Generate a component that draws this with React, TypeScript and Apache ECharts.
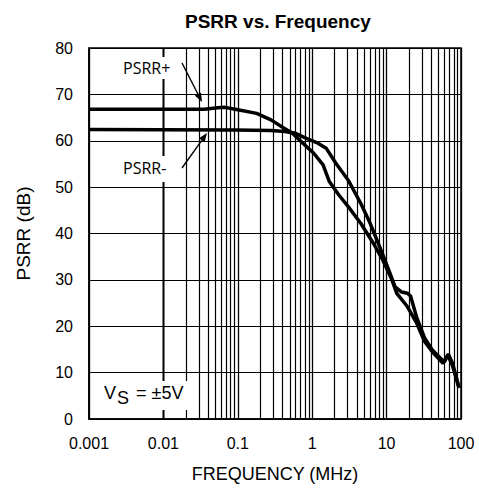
import React, { useEffect, useRef } from 'react';
import * as echarts from 'echarts';

// ---------- data ----------
const chartTitle = 'PSRR vs. Frequency';
const xAxisName = 'FREQUENCY (MHz)';
const yAxisName = 'PSRR (dB)';
const xTickLabels = ['0.001', '0.01', '0.1', '1', '10', '100'];
const decades = [0.001, 0.01, 0.1, 1, 10];
const minorMultipliers = [2, 3, 4, 5, 6, 7, 8, 9];

const psrrPlusFreq = [0.001, 0.0356, 0.0538, 0.0673, 0.0925, 0.179, 0.279, 0.389, 0.542, 0.756, 1.05, 1.4, 1.7, 2.28, 3.05, 4.49, 6.63, 8.87, 11.8, 13.7, 19.1, 25.5, 32.4, 41.1, 52.2, 57.5, 66.4, 76.6, 92.6];
const psrrPlusDb = [66.8, 66.8, 67.1, 67.2, 66.8, 65.9, 64.5, 63.0, 61.6, 59.4, 57.3, 54.8, 51.2, 48.3, 45.8, 42.2, 37.9, 34.3, 30.0, 27.1, 24.2, 20.6, 16.7, 14.5, 12.7, 12.0, 13.8, 11.6, 7.0];

const psrrMinusFreq = [0.001, 0.0925, 0.279, 0.43, 0.597, 0.834, 1.15, 1.54, 2.07, 3.05, 3.7, 4.49, 6.01, 8.04, 10.7, 13.0, 15.8, 19.1, 21.0, 25.5, 32.4, 41.1, 52.2, 59.7, 67.6, 77.3, 94.4];
const psrrMinusDb = [62.4, 62.3, 62.2, 62.0, 61.6, 60.5, 59.6, 58.4, 55.2, 51.5, 49.0, 46.5, 42.2, 37.2, 32.1, 28.5, 27.4, 27.1, 26.5, 21.8, 17.5, 14.9, 13.2, 12.3, 14.0, 11.9, 6.7];

const labelPlus = 'PSRR+';
const labelMinus = 'PSRR-';
const vsMain = 'V';
const vsSub = 'S';
const vsRest = '= ±5V';

const FONT = 'Liberation Sans, Arial, sans-serif';

function arrow(x1: number, y1: number, x2: number, y2: number) {
  const dx = x2 - x1;
  const dy = y2 - y1;
  const len = Math.sqrt(dx * dx + dy * dy);
  const ux = dx / len;
  const uy = dy / len;
  const hl = 9;
  const hw = 3.5;
  const bx = x2 - ux * hl;
  const by = y2 - uy * hl;
  return [
    {
      type: 'line',
      z: 20,
      shape: { x1, y1, x2: bx, y2: by },
      style: { stroke: '#000', lineWidth: 1.4 },
    },
    {
      type: 'polygon',
      z: 20,
      shape: {
        points: [
          [x2, y2],
          [bx - uy * hw, by + ux * hw],
          [bx + uy * hw, by - ux * hw],
        ],
      },
      style: { fill: '#000' },
    },
  ];
}

export default function App() {
  const ref = useRef<HTMLDivElement>(null);

  useEffect(() => {
    const chart = echarts.init(ref.current!, null, { renderer: 'svg' });

    const minorLines: any[] = [];
    decades.forEach((d) => minorMultipliers.forEach((m) => minorLines.push({ xAxis: +(d * m).toPrecision(3) })));

    const plusData = psrrPlusFreq.map((f, i) => [f, psrrPlusDb[i]]);
    const minusData = psrrMinusFreq.map((f, i) => [f, psrrMinusDb[i]]);

    chart.setOption({
      animation: false,
      backgroundColor: '#fff',
      title: {
        text: chartTitle,
        left: 180,
        top: 7,
        textStyle: { fontFamily: FONT, fontSize: 19, fontWeight: 'bold', color: '#000' },
      },
      grid: {
        left: 89,
        right: 18,
        top: 48,
        bottom: 77,
        show: true,
        borderColor: '#000',
        borderWidth: 1.5,
      },
      xAxis: {
        type: 'log',
        logBase: 10,
        min: 0.001,
        max: 100,
        name: xAxisName,
        nameLocation: 'middle',
        nameGap: 46,
        nameTextStyle: { fontFamily: FONT, fontSize: 18, color: '#000' },
        axisLine: { show: true, lineStyle: { color: '#000', width: 1.5 } },
        axisTick: { show: false },
        axisLabel: {
          margin: 16,
          fontFamily: FONT,
          fontSize: 16,
          color: '#000',
          formatter: (v: number) => {
            const idx = Math.round(Math.log10(v)) + 3;
            return xTickLabels[idx] ?? '';
          },
        },
        splitLine: { show: true, lineStyle: { color: '#000', width: 1.3 } },
      },
      yAxis: {
        type: 'value',
        min: 0,
        max: 80,
        interval: 10,
        name: yAxisName,
        nameLocation: 'middle',
        nameRotate: 90,
        nameGap: 56,
        nameTextStyle: { fontFamily: FONT, fontSize: 19, color: '#000' },
        axisLine: { show: true, lineStyle: { color: '#000', width: 1.5 } },
        axisTick: { show: false },
        axisLabel: { margin: 16, fontFamily: FONT, fontSize: 16, color: '#000' },
        splitLine: { show: true, lineStyle: { color: '#000', width: 1.2 } },
      },
      series: [
        {
          type: 'line',
          name: 'grid',
          data: [],
          silent: true,
          z: 1,
          markLine: {
            silent: true,
            symbol: ['none', 'none'],
            label: { show: false },
            lineStyle: { color: '#000', width: 1.2, type: 'solid', opacity: 1 },
            emphasis: { disabled: true },
            data: minorLines,
          },
        },
        {
          type: 'line',
          name: labelPlus,
          data: plusData,
          showSymbol: false,
          symbol: 'none',
          z: 5,
          lineStyle: { color: '#000', width: 3.5 },
        },
        {
          type: 'line',
          name: labelMinus,
          data: minusData,
          showSymbol: false,
          symbol: 'none',
          z: 5,
          lineStyle: { color: '#000', width: 3.5 },
        },
      ],
      graphic: [
        { type: 'rect', z: 15, shape: { x: 120, y: 57, width: 56, height: 22 }, style: { fill: '#fff' } },
        {
          type: 'text',
          z: 16,
          style: { x: 123, y: 68, text: labelPlus, fontFamily: 'Open Sans', fontSize: 16, fill: '#000', verticalAlign: 'middle' },
        },
        ...arrow(182, 63, 202, 102),
        { type: 'rect', z: 15, shape: { x: 120, y: 156, width: 52, height: 26 }, style: { fill: '#fff' } },
        {
          type: 'text',
          z: 16,
          style: { x: 123, y: 168, text: labelMinus, fontFamily: 'Open Sans', fontSize: 16, fill: '#000', verticalAlign: 'middle' },
        },
        ...arrow(182, 168, 207, 133),
        { type: 'rect', z: 15, shape: { x: 97, y: 381, width: 93, height: 29 }, style: { fill: '#fff' } },
        {
          type: 'text',
          z: 16,
          style: { x: 104, y: 393, text: vsMain, fontFamily: FONT, fontSize: 18, fill: '#000', verticalAlign: 'middle' },
        },
        {
          type: 'text',
          z: 16,
          style: { x: 117, y: 398, text: vsSub, fontFamily: FONT, fontSize: 18, fill: '#000', verticalAlign: 'middle' },
        },
        {
          type: 'text',
          z: 16,
          style: { x: 136, y: 393, text: vsRest, fontFamily: FONT, fontSize: 18, fill: '#000', verticalAlign: 'middle' },
        },
      ],
    });

    return () => chart.dispose();
  }, []);

  return <div ref={ref} style={{ position: 'absolute', left: 0, top: 0, width: 479, height: 496 }} />;
}
